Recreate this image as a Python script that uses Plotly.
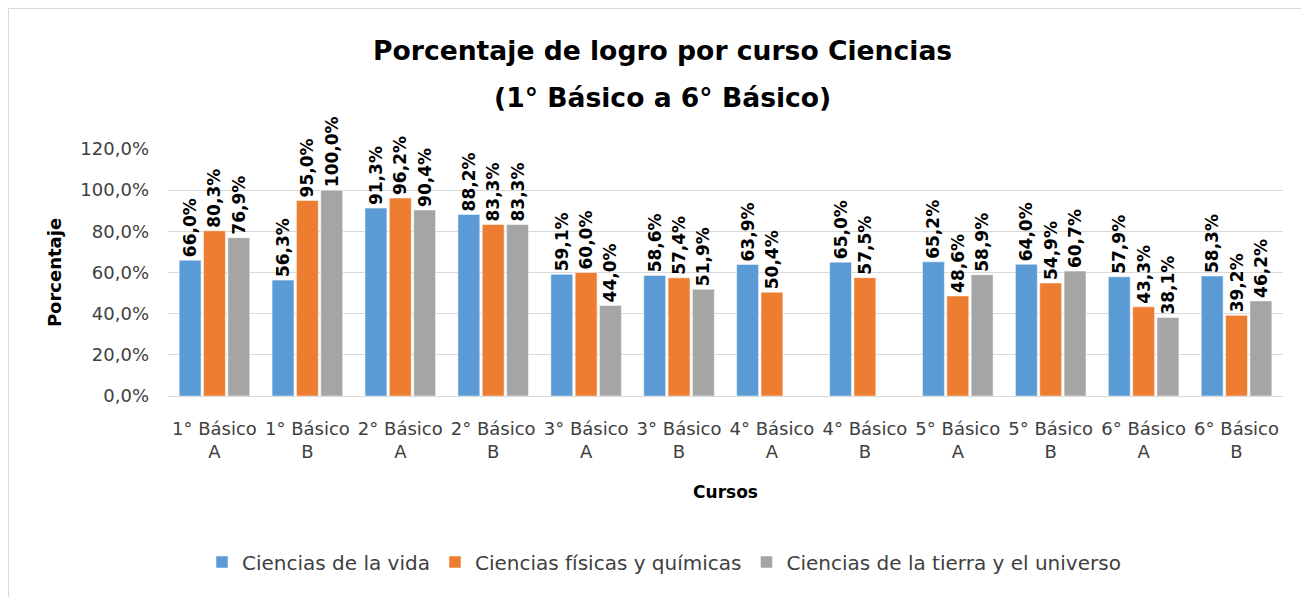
import plotly.graph_objects as go

categories = ["1° Básico<br>A", "1° Básico<br>B", "2° Básico<br>A", "2° Básico<br>B",
              "3° Básico<br>A", "3° Básico<br>B", "4° Básico<br>A", "4° Básico<br>B",
              "5° Básico<br>A", "5° Básico<br>B", "6° Básico<br>A", "6° Básico<br>B"]
vida = [66.0, 56.3, 91.3, 88.2, 59.1, 58.6, 63.9, 65.0, 65.2, 64.0, 57.9, 58.3]
fisicas = [80.3, 95.0, 96.2, 83.3, 60.0, 57.4, 50.4, 57.5, 48.6, 54.9, 43.3, 39.2]
tierra = [76.9, 100.0, 90.4, 83.3, 44.0, 51.9, None, None, 58.9, 60.7, 38.1, 46.2]
series_names = ["Ciencias de la vida", "Ciencias físicas y químicas", "Ciencias de la tierra y el universo"]
colors = ["#5B9BD5", "#ED7D31", "#A5A5A5"]
y_ticks = [0, 20, 40, 60, 80, 100, 120]
y_tick_labels = ["0,0%", "20,0%", "40,0%", "60,0%", "80,0%", "100,0%", "120,0%"]

FONT = "DejaVu Sans"
OFF = 8  # page body margin
W, H = 1309 - OFF, 597 - OFF
ML, MR, MT, MB = 160, 26, 141, 201
PW, PH = W - ML - MR, H - MT - MB

def px_x(x_ref):
    return (x_ref - OFF - ML) / PW

def px_y(y_ref):
    return (H - MB - (y_ref - OFF)) / PH

def fmt(v):
    return "" if v is None else f"{v:.1f}".replace(".", ",") + "%"

fig = go.Figure()
for name, vals, col in zip(series_names, [vida, fisicas, tierra], colors):
    fig.add_trace(go.Bar(
        x=categories, y=vals, name=name,
        marker=dict(color=col, line=dict(color="white", width=0.5)),
        text=[fmt(v) for v in vals], textposition="outside", textangle=-90,
        textfont=dict(family=FONT, size=17, color="#000000", weight="bold"),
        cliponaxis=False,
    ))

fig.update_layout(
    width=W, height=H,
    paper_bgcolor="white", plot_bgcolor="white",
    margin=dict(l=ML, r=MR, t=MT, b=MB, autoexpand=False),
    barmode="group", bargap=0.214, bargroupgap=0.1,
    uniformtext=dict(minsize=17, mode="show"),
    font=dict(family=FONT, color="#404040"),
    showlegend=True,
    legend=dict(orientation="h", x=px_x(664), xanchor="center", y=px_y(562), yanchor="middle",
                font=dict(family=FONT, size=20, color="#404040"),
                itemwidth=30, traceorder="normal"),
    xaxis=dict(tickfont=dict(family=FONT, size=18, color="#404040"),
               showline=True, linecolor="#D9D9D9", linewidth=1, ticks="", automargin=False,
               ticklabelstandoff=16,
               title=dict(text="<b>Cursos</b>", font=dict(family=FONT, size=17, color="#000000"),
                          standoff=25)),
    yaxis=dict(range=[0, 120], tickvals=y_ticks, ticktext=y_tick_labels,
               tickfont=dict(family=FONT, size=18, color="#404040"),
               showgrid=True, gridcolor="#D9D9D9", gridwidth=1, zeroline=False,
               ticks="", ticklen=0, automargin=False, ticklabelstandoff=18,
               title=dict(text="<b>Porcentaje</b>", font=dict(family=FONT, size=18, color="#000000"),
                          standoff=14)),
    annotations=[
        dict(text="<b>Porcentaje de logro por curso Ciencias</b>", xref="paper", yref="paper",
             x=px_x(662), y=px_y(50), xanchor="center", yanchor="middle",
             showarrow=False, font=dict(family=FONT, size=26.6, color="#000000")),
        dict(text="<b>(1° Básico a 6° Básico)</b>", xref="paper", yref="paper",
             x=px_x(662), y=px_y(97), xanchor="center", yanchor="middle",
             showarrow=False, font=dict(family=FONT, size=26.6, color="#000000")),
    ],
    shapes=[dict(type="rect", xref="paper", yref="paper",
                 x0=px_x(8.5), x1=px_x(1320), y0=px_y(620), y1=px_y(8.5),
                 line=dict(color="#D9D9D9", width=1), fillcolor="rgba(0,0,0,0)")],
)

fig.write_html("out.html")
